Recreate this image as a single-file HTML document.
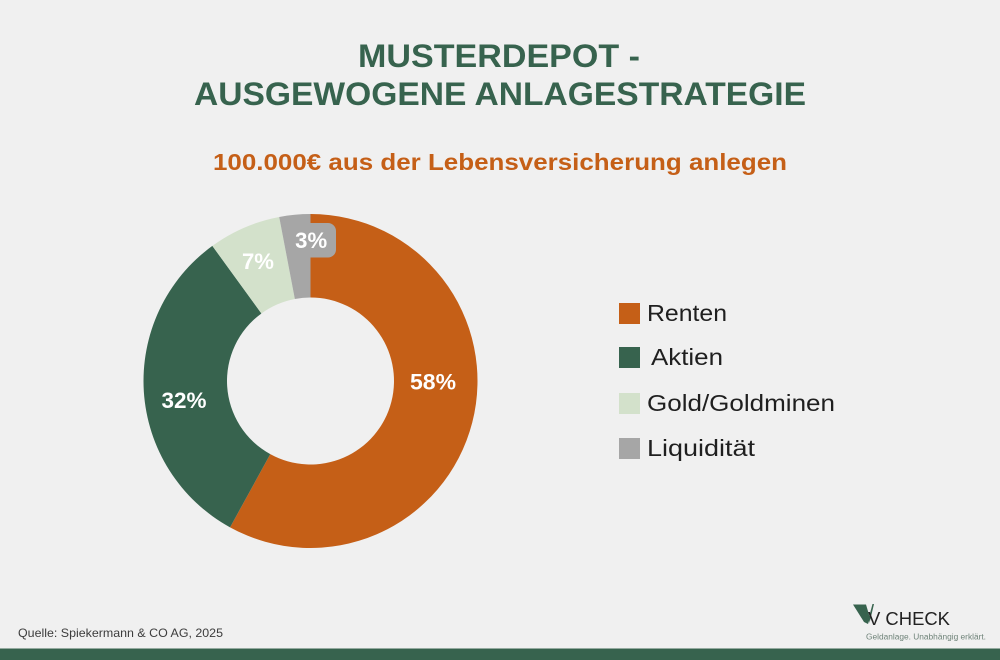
<!DOCTYPE html>
<html lang="de">
<head>
<meta charset="utf-8">
<title>Musterdepot - Ausgewogene Anlagestrategie</title>
<style>
html,body{margin:0;padding:0;background:#f0f0f0;}
svg{display:block;font-family:"Liberation Sans",sans-serif;}
</style>
</head>
<body>
<svg id="chart" width="1000" height="660" viewBox="0 0 1000 660" xmlns="http://www.w3.org/2000/svg">
  <rect x="0" y="0" width="1000" height="660" fill="#f0f0f0"/>
  <text x="358" y="67" font-size="32" font-weight="700" fill="#37634e" textLength="282" lengthAdjust="spacingAndGlyphs">MUSTERDEPOT -</text>
  <text x="194" y="105" font-size="32" font-weight="700" fill="#37634e" textLength="612" lengthAdjust="spacingAndGlyphs">AUSGEWOGENE ANLAGESTRATEGIE</text>
  <text x="213" y="170" font-size="23.5" font-weight="700" fill="#c55f17" textLength="574" lengthAdjust="spacingAndGlyphs">100.000€ aus der Lebensversicherung anlegen</text>
  <g id="slices"></g>
  <rect x="295" y="223" width="41" height="34.5" rx="8" fill="#a6a6a6"/>
  <g id="labels"></g>
  <g id="legend"></g>
  <text x="18" y="637" font-size="12" fill="#3c3c3c" textLength="205" lengthAdjust="spacingAndGlyphs">Quelle: Spiekermann &amp; CO AG, 2025</text>
  <g>
    <polygon points="853,604.5 866,604.5 870,618 868,624 864,622" fill="#37634e"/>
    <polygon points="869,617 872.5,604 874,604 869.5,623" fill="#37634e"/>
    <text x="868" y="625" font-size="18.5" fill="#222222" textLength="82" lengthAdjust="spacingAndGlyphs">V CHECK</text>
    <text x="866" y="639.5" font-size="8" fill="#6f8379" textLength="120" lengthAdjust="spacingAndGlyphs">Geldanlage. Unabhängig erklärt.</text>
  </g>
  <rect x="0" y="648.5" width="1000" height="11.5" fill="#37634e"/>
</svg>
<script>
const categories = ['Renten', 'Aktien', 'Gold/Goldminen', 'Liquidität'];
const seriesValues = [58, 32, 7, 3];
const valueLabels = ['58%', '32%', '7%', '3%'];

const NS = 'http://www.w3.org/2000/svg';
const colors = ['#c55f17', '#37634e', '#d3e1cb', '#a6a6a6'];
const labelColor = '#ffffff';
const cx = 310.5, cy = 381, outerR = 167, innerR = 83.5, labelR = 126;
const labelNudgeX = [0.5, -0.7, -2.5, 12.5], labelNudgeY = [-31, 11, -4.5, -15.5], labelWidth = [46, 45, 32, 32];
const legendX = 619, legendTextX = [647, 651, 647, 647], legendTextW = [80, 72, 188, 108], legendY = [303, 347, 393, 438], swatch = 21;

const total = seriesValues.reduce(function (a, b) { return a + b; }, 0);
function angleOf(v) { return v / total * Math.PI * 2; }
function pt(r, a) { return [cx + r * Math.sin(a), cy - r * Math.cos(a)]; }

function slicePath(a0, a1) {
  const large = a1 - a0 > Math.PI ? 1 : 0;
  const p0 = pt(outerR, a0), p1 = pt(outerR, a1), p2 = pt(innerR, a1), p3 = pt(innerR, a0);
  return 'M' + p0[0] + ' ' + p0[1] +
    'A' + outerR + ' ' + outerR + ' 0 ' + large + ' 1 ' + p1[0] + ' ' + p1[1] +
    'L' + p2[0] + ' ' + p2[1] +
    'A' + innerR + ' ' + innerR + ' 0 ' + large + ' 0 ' + p3[0] + ' ' + p3[1] + 'Z';
}

const sliceGroup = document.getElementById('slices');
const labelGroup = document.getElementById('labels');
const legendGroup = document.getElementById('legend');
let running = 0;

seriesValues.forEach(function (v, i) {
  const a0 = angleOf(running);
  const a1 = angleOf(running + v);
  running += v;

  const path = document.createElementNS(NS, 'path');
  path.setAttribute('d', slicePath(a0, a1));
  path.setAttribute('fill', colors[i]);
  
  
  sliceGroup.appendChild(path);

  const mid = (a0 + a1) / 2;
  const lp = pt(labelR, mid);
  const lab = document.createElementNS(NS, 'text');
  lab.setAttribute('x', lp[0] + labelNudgeX[i] - labelWidth[i] / 2);
  lab.setAttribute('y', lp[1] + labelNudgeY[i] + 8);
  lab.setAttribute('font-size', '22');
  lab.setAttribute('font-weight', '700');
  lab.setAttribute('fill', labelColor);
  lab.setAttribute('textLength', labelWidth[i]);
  lab.setAttribute('lengthAdjust', 'spacingAndGlyphs');
  
  
  lab.textContent = valueLabels[i];
  labelGroup.appendChild(lab);

  const sw = document.createElementNS(NS, 'rect');
  sw.setAttribute('x', legendX);
  sw.setAttribute('y', legendY[i]);
  sw.setAttribute('width', swatch);
  sw.setAttribute('height', swatch);
  sw.setAttribute('fill', colors[i]);
  
  
  legendGroup.appendChild(sw);

  const tx = document.createElementNS(NS, 'text');
  tx.setAttribute('x', legendTextX[i]);
  tx.setAttribute('y', legendY[i] + 18);
  tx.setAttribute('font-size', '23');
  tx.setAttribute('textLength', legendTextW[i]);
  tx.setAttribute('lengthAdjust', 'spacingAndGlyphs');
  tx.setAttribute('fill', '#1f1f1f');
  
  
  tx.textContent = categories[i];
  legendGroup.appendChild(tx);
});
</script>
</body>
</html>
